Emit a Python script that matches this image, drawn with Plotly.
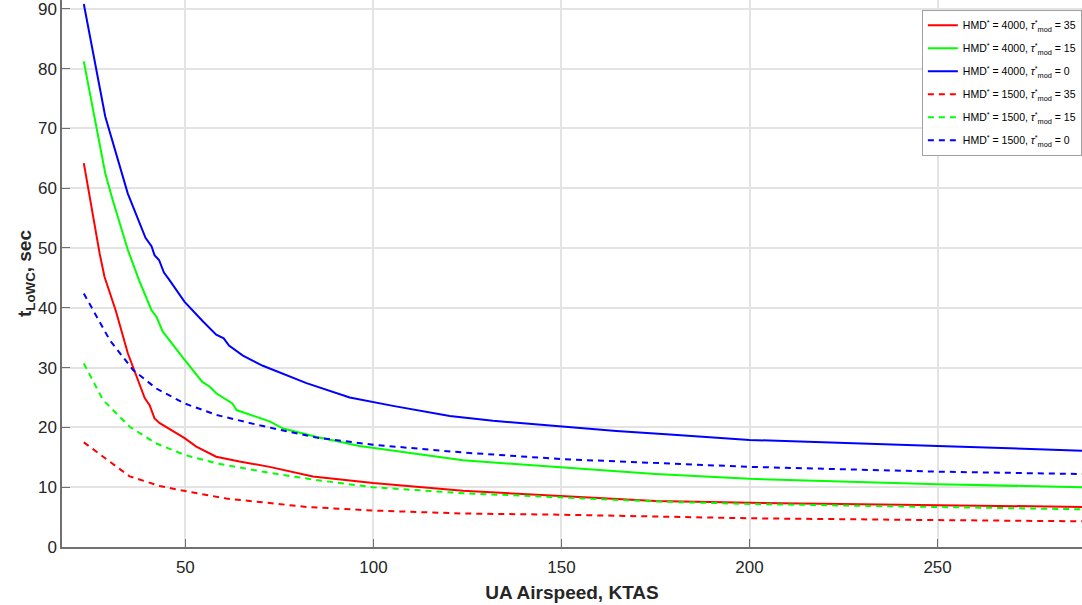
import plotly.graph_objects as go

# HMD* = 4000, tau* = 35 (red solid)
x_r4000 = [23, 24.7, 27.2, 28.5, 31.5, 34.7, 39.2, 40.5, 41.8, 43.2, 49.8, 52.9, 58.2, 64.4, 72.4, 83.9, 99.9, 123.8, 150, 175, 200, 250, 288.4]
y_r4000 = [64.2, 58.0, 49.1, 45.2, 39.5, 32.4, 24.9, 23.7, 21.5, 20.7, 18.2, 16.8, 15.1, 14.3, 13.4, 11.8, 10.7, 9.4, 8.5, 7.7, 7.4, 7.0, 6.7]

# HMD* = 4000, tau* = 15 (green solid)
x_g4000 = [23, 28.7, 30.7, 34.7, 37.7, 39.4, 41.0, 42.3, 44.0, 49.8, 54.5, 56.5, 58.2, 62.5, 63.6, 72.4, 76, 85, 96.3, 123.8, 150, 175, 200, 250, 288.4]
y_g4000 = [81.2, 62.5, 58.0, 49.7, 44.6, 41.9, 39.6, 38.5, 36.0, 31.3, 27.6, 26.8, 25.7, 24.0, 22.9, 21.0, 19.8, 18.4, 16.9, 14.5, 13.3, 12.2, 11.4, 10.5, 10.0]

# HMD* = 4000, tau* = 0 (blue solid)
x_b4000 = [23, 28.7, 34.7, 39.4, 41.0, 41.8, 43.0, 44.3, 45.6, 49.8, 54.7, 56.5, 58.2, 60.2, 61.6, 65.3, 70.6, 82.2, 93.7, 105.2, 120.3, 131.8, 150, 164.6, 178.8, 200, 250, 288.4]
y_b4000 = [90.8, 72.0, 59.1, 51.7, 50.3, 48.8, 48.0, 45.9, 44.8, 41.0, 37.7, 36.6, 35.5, 34.9, 33.7, 32.0, 30.3, 27.4, 25.0, 23.6, 21.9, 21.1, 20.1, 19.4, 18.8, 17.9, 16.9, 16.1]

# HMD* = 1500, tau* = 35 (red dashed)
x_r1500 = [23, 30.7, 35.2, 37.8, 43.2, 49.6, 60.9, 67.1, 82.2, 99.9, 123.8, 150, 175, 200, 250, 288.4]
y_r1500 = [17.5, 14.0, 11.8, 11.3, 10.2, 9.4, 8.1, 7.7, 6.7, 6.1, 5.6, 5.4, 5.05, 4.8, 4.5, 4.3]

# HMD* = 1500, tau* = 15 (green dashed)
x_g1500 = [23, 28.1, 35.2, 42.3, 49.8, 58.2, 72.4, 84.8, 99.9, 123.8, 150, 175, 200, 250, 288.4]
y_g1500 = [30.7, 24.6, 20.1, 17.3, 15.4, 14.0, 12.4, 11.2, 10.0, 9.0, 8.3, 7.6, 7.2, 6.7, 6.3]

# HMD* = 1500, tau* = 0 (blue dashed)
x_b1500 = [23, 29.9, 36.1, 42.3, 49.8, 58.2, 70, 84.8, 99.9, 123.8, 150, 175, 200, 250, 288.4]
y_b1500 = [42.4, 34.6, 29.6, 26.5, 24.0, 22.1, 20.3, 18.3, 17.1, 15.8, 14.7, 14.0, 13.4, 12.6, 12.2]

x_ticks = [50, 100, 150, 200, 250]
y_ticks = [0, 10, 20, 30, 40, 50, 60, 70, 80, 90]

series = [
    (x_r4000, y_r4000, "#ff0000", "solid", "HMD<sup>*</sup> = 4000, <i>τ</i><sup>*</sup><sub>mod</sub> = 35"),
    (x_g4000, y_g4000, "#00ff00", "solid", "HMD<sup>*</sup> = 4000, <i>τ</i><sup>*</sup><sub>mod</sub> = 15"),
    (x_b4000, y_b4000, "#0000ff", "solid", "HMD<sup>*</sup> = 4000, <i>τ</i><sup>*</sup><sub>mod</sub> = 0"),
    (x_r1500, y_r1500, "#ff0000", "dash", "HMD<sup>*</sup> = 1500, <i>τ</i><sup>*</sup><sub>mod</sub> = 35"),
    (x_g1500, y_g1500, "#00ff00", "dash", "HMD<sup>*</sup> = 1500, <i>τ</i><sup>*</sup><sub>mod</sub> = 15"),
    (x_b1500, y_b1500, "#0000ff", "dash", "HMD<sup>*</sup> = 1500, <i>τ</i><sup>*</sup><sub>mod</sub> = 0"),
]

fig = go.Figure()
for i, (xs, ys, col, dash, name) in enumerate(series):
    fig.add_trace(go.Scatter(
        x=xs, y=ys, mode="lines", name=name, legendgroup=f"g{i}",
        line=dict(color=col, width=2, dash="6px,5px" if dash == "dash" else "solid"),
    ))

axis_font = dict(family="Liberation Sans, Arial, sans-serif", size=17, color="#262626")

fig.update_layout(
    width=1082, height=605,
    margin=dict(l=62, r=0, t=0, b=58, autoexpand=False),
    paper_bgcolor="white", plot_bgcolor="white",
    font=dict(family="Liberation Sans, Arial, sans-serif", color="#262626"),
    showlegend=True,
    legend=dict(
        x=0.843, y=0.982, xanchor="left", yanchor="top",
        bgcolor="white", bordercolor="#a0a0a0", borderwidth=1,
        font=dict(size=10.5, color="#000000"),
        tracegroupgap=4, itemwidth=30,
    ),
    xaxis=dict(
        range=[17.2, 288.4], tickvals=x_ticks, ticktext=[str(v) for v in x_ticks],
        automargin=False, ticklabelstandoff=4,
        showgrid=True, gridcolor="#e3e3e3", gridwidth=1.5,
        showline=True, linecolor="#707070", linewidth=1.5,
        ticks="inside", ticklen=8, tickcolor="#707070", tickwidth=1,
        tickfont=axis_font, zeroline=False,
        title=dict(text="<b>UA Airspeed, KTAS</b>", font=dict(size=19, color="#262626"), standoff=10),
    ),
    yaxis=dict(
        range=[0, 91.47], tickvals=y_ticks, ticktext=[str(v) for v in y_ticks],
        automargin=False, ticklabeloverflow="allow",
        showgrid=True, gridcolor="#e3e3e3", gridwidth=1.5,
        showline=True, linecolor="#707070", linewidth=1.5,
        ticks="inside", ticklen=8, tickcolor="#707070", tickwidth=1,
        tickfont=axis_font, zeroline=False,
        title=dict(text="<b>t<sub>LoWC</sub>, sec</b>", font=dict(size=19, color="#262626"), standoff=0),
    ),
)

fig.write_html(
    "out.html",
    config={"displayModeBar": False},
    post_script="document.body.style.margin='0';document.body.style.overflow='hidden';",
)
